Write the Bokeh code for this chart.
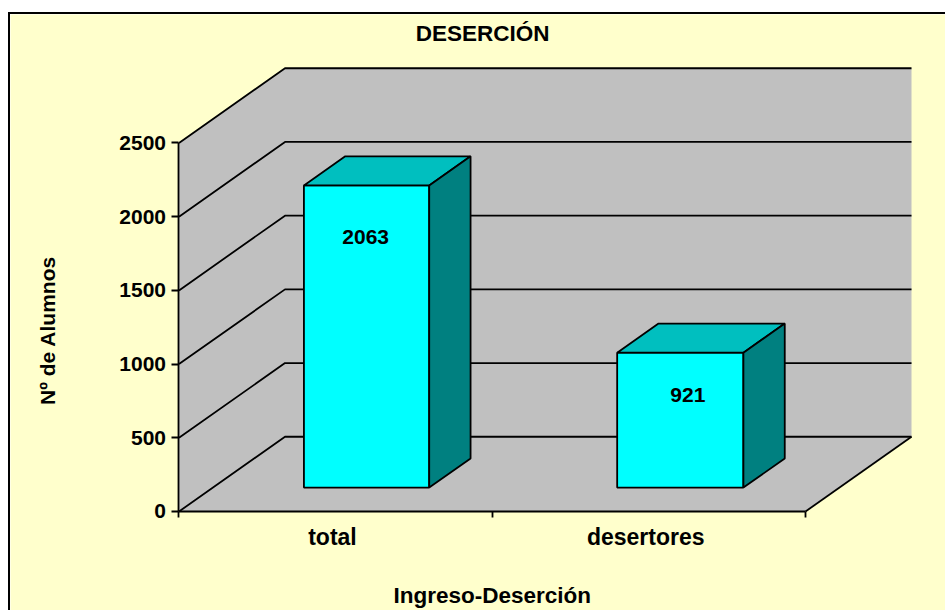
import math
from bokeh.plotting import figure
from bokeh.embed import file_html
from bokeh.resources import INLINE
from bokeh.models import FixedTicker, Range1d
from bokeh.core.properties import value

categories = ["total", "desertores"]
alumnos = [2063, 921]
y_ticks = [0, 500, 1000, 1500, 2000, 2500]
title_text = "DESERCIÓN"
x_title = "Ingreso-Deserción"
y_title = "Nº de Alumnos"

FONT = "Liberation Sans"
BLACK = "#000000"
LW = 1.8
DX, DY = 0.3384, 507.0      # depth vector of the 3D box, in data units
BAR_W = 0.40
BAR_D0, BAR_D1 = 0.32, 0.71  # bar extent along the depth axis
BAR_SCALE = 0.9935
LABEL_DROP = [348, 285]
LABEL_SHIFT = [-0.003, 0.024]
X_LABEL_POS = [0.49, 1.49]

p = figure(width=937, height=598, output_backend="svg", toolbar_location=None,
           x_range=Range1d(-0.5379, 2.4533), y_range=Range1d(-685.2, 3371.7),
           min_border_left=0, min_border_right=0, min_border_top=0, min_border_bottom=0,
           border_fill_color="#FFFFCC", background_fill_color="#FFFFCC",
           outline_line_color=None, margin=(12, 0, 0, 8),
           styles={"border-top": "2px solid #000", "border-left": "2px solid #000"})
p.grid.visible = False

def proj(x, v, d):
    return x + d * DX, v + d * DY

top = y_ticks[-1]
N = len(categories)
GRAY = "#C0C0C0"
corners = [
    [(0, 0, 0), (0, 0, 1), (0, top, 1), (0, top, 0)],
    [(0, 0, 1), (N, 0, 1), (N, top, 1), (0, top, 1)],
    [(0, 0, 0), (N, 0, 0), (N, 0, 1), (0, 0, 1)],
]
for poly in corners:
    pts = [proj(*c) for c in poly]
    p.patch([a for a, _ in pts], [b for _, b in pts], fill_color=GRAY, line_color=None)

for t in y_ticks:
    a = proj(0, t, 0); b = proj(0, t, 1); c = proj(N, t, 1)
    p.line([a[0], b[0], c[0]], [a[1], b[1], c[1]], line_color=BLACK, line_width=LW)
a = proj(N, 0, 0); b = proj(N, 0, 1)
p.line([a[0], b[0]], [a[1], b[1]], line_color=BLACK, line_width=LW)

def bold_text(x, y, txt, size, angle=0):
    p.text([x], [y], text=[txt], text_font=value(FONT), text_font_style="bold", angle=angle,
           text_font_size=size, text_align="center", text_baseline="middle", text_color=BLACK)

for i, v in enumerate(alumnos):
    h = v * BAR_SCALE
    xl = i + 0.492 - 0.403 / 2
    xr = xl + BAR_W + (0.003 if i else 0)
    faces = [
        ("#00FFFF", [(xl, 0, BAR_D0), (xr, 0, BAR_D0), (xr, h, BAR_D0), (xl, h, BAR_D0)]),
        ("#00BFBF", [(xl, h, BAR_D0), (xr, h, BAR_D0), (xr, h, BAR_D1), (xl, h, BAR_D1)]),
        ("#008080", [(xr, 0, BAR_D0), (xr, 0, BAR_D1), (xr, h, BAR_D1), (xr, h, BAR_D0)]),
    ]
    for col, poly in faces:
        pts = [proj(*c) for c in poly]
        p.patch([a for a, _ in pts], [b for _, b in pts], fill_color=col,
                line_color=BLACK, line_width=LW)
    lx, ly = proj((xl + xr) / 2 + LABEL_SHIFT[i], h - LABEL_DROP[i], BAR_D0)
    bold_text(lx, ly, str(v), "21px")

ya = p.yaxis[0]
ya.fixed_location = 0
ya.ticker = FixedTicker(ticks=y_ticks)
ya.bounds = (0, top)
ya.major_label_text_font = FONT
ya.major_label_text_font_style = "bold"
ya.major_label_text_font_size = "21px"
ya.major_label_text_color = BLACK
ya.major_label_standoff = 6
ya.major_tick_in = 0
ya.major_tick_out = 7
ya.minor_tick_line_color = None
ya.axis_line_width = LW
ya.axis_line_color = BLACK
ya.major_tick_line_width = LW
ya.major_tick_line_color = BLACK

xa = p.xaxis[0]
xa.fixed_location = 0
xa.ticker = FixedTicker(ticks=X_LABEL_POS, minor_ticks=list(range(N + 1)))
xa.major_label_overrides = dict(zip(X_LABEL_POS, categories))
xa.bounds = (0, N)
xa.major_label_text_font = FONT
xa.major_label_text_font_style = "bold"
xa.major_label_text_font_size = "23px"
xa.major_label_text_color = BLACK
xa.major_label_standoff = 7
xa.major_tick_in = 0
xa.major_tick_out = 0
xa.minor_tick_in = 0
xa.minor_tick_out = 6
xa.minor_tick_line_width = LW
xa.minor_tick_line_color = BLACK
xa.axis_line_width = LW
xa.axis_line_color = BLACK

bold_text(1.0, -570, x_title, "22.5px")
bold_text(-0.42, 1228, y_title, "21px", angle=math.pi / 2)
bold_text(0.969, 3240, title_text, "22.5px")

open("out.html", "w").write(file_html(p, INLINE))
